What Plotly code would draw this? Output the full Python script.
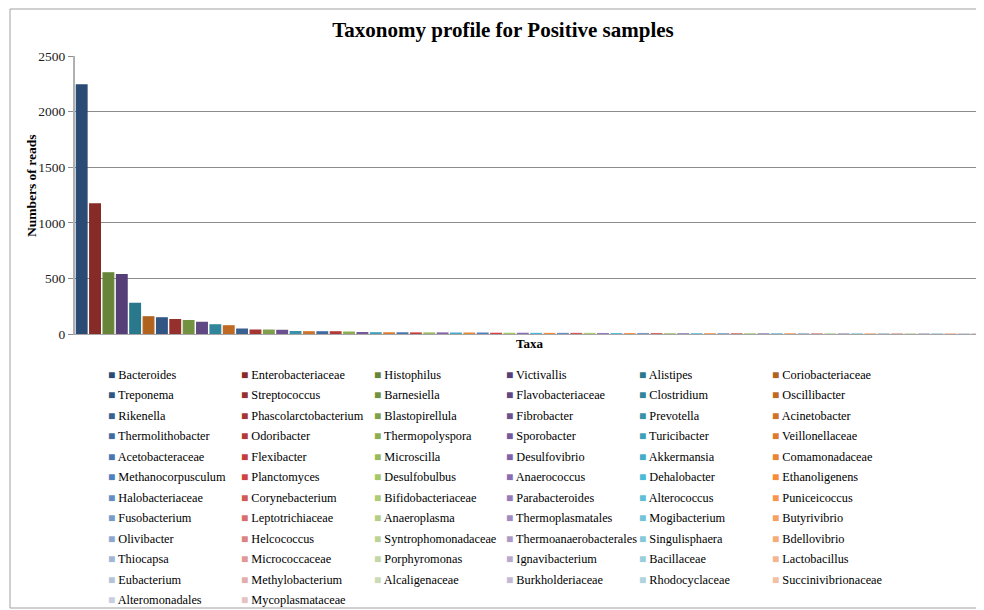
import plotly.graph_objects as go

taxa = [
    "Bacteroides", "Enterobacteriaceae", "Histophilus", "Victivallis", "Alistipes", "Coriobacteriaceae",
    "Treponema", "Streptococcus", "Barnesiella", "Flavobacteriaceae", "Clostridium", "Oscillibacter",
    "Rikenella", "Phascolarctobacterium", "Blastopirellula", "Fibrobacter", "Prevotella", "Acinetobacter",
    "Thermolithobacter", "Odoribacter", "Thermopolyspora", "Sporobacter", "Turicibacter", "Veillonellaceae",
    "Acetobacteraceae", "Flexibacter", "Microscilla", "Desulfovibrio", "Akkermansia", "Comamonadaceae",
    "Methanocorpusculum", "Planctomyces", "Desulfobulbus", "Anaerococcus", "Dehalobacter", "Ethanoligenens",
    "Halobacteriaceae", "Corynebacterium", "Bifidobacteriaceae", "Parabacteroides", "Alterococcus", "Puniceicoccus",
    "Fusobacterium", "Leptotrichiaceae", "Anaeroplasma", "Thermoplasmatales", "Mogibacterium", "Butyrivibrio",
    "Olivibacter", "Helcococcus", "Syntrophomonadaceae", "Thermoanaerobacterales", "Singulisphaera", "Bdellovibrio",
    "Thiocapsa", "Micrococcaceae", "Porphyromonas", "Ignavibacterium", "Bacillaceae", "Lactobacillus",
    "Eubacterium", "Methylobacterium", "Alcaligenaceae", "Burkholderiaceae", "Rhodocyclaceae", "Succinivibrionaceae",
    "Alteromonadales", "Mycoplasmataceae",
]

reads = [
    2240, 1170, 550, 535, 275, 155,
    145, 130, 120, 105, 82, 74,
    45, 36, 35, 33, 21, 20,
    20, 19, 18, 12, 11, 10,
    10, 9, 9, 9, 8, 8,
    8, 6, 6, 6, 5, 5,
    5, 5, 5, 4, 4, 4,
    4, 4, 4, 3, 3, 3,
    3, 3, 3, 3, 3, 3,
    2, 2, 2, 2, 2, 2,
    2, 2, 2, 2, 2, 2,
    2, 2,
]

# office-2007 style hues: darkest, base, lightest
hues = [
    ("#2a4b74", "#4f81bd", "#c8d0df"),
    ("#862b28", "#d0433f", "#e6c3c2"),
    ("#678438", "#a4c865", "#d4dec6"),
    ("#563f76", "#8a6cb3", "#cfc8da"),
    ("#2a788b", "#4cb9d6", "#c0d8df"),
    ("#b0621f", "#f98c3a", "#f0cbb8"),
]


def mix(a, b, t):
    a = [int(a[i:i + 2], 16) for i in (1, 3, 5)]
    b = [int(b[i:i + 2], 16) for i in (1, 3, 5)]
    return "#" + "".join("%02x" % round(a[k] + (b[k] - a[k]) * t) for k in range(3))


def shade(i):
    dark, base, light = hues[i % 6]
    r = i // 6
    if r <= 5:
        return mix(dark, base, r / 5)
    return mix(base, light, (r - 5) / 6)


serif = "Liberation Serif, Times New Roman, serif"

# page body adds an 8px offset; positions below are in figure pixels
W, H = 976, 602
W0, W1 = 67, 976
T0, B0 = 48, 326
pw, ph = W1 - W0, B0 - T0


def px(x):
    return (x - W0) / pw


def py(y):
    return (B0 - y) / ph


fig = go.Figure()
for i, (name, val) in enumerate(zip(taxa, reads)):
    c = shade(i)
    fig.add_trace(go.Bar(x=[name], y=[val], name=name, width=0.8,
                         marker=dict(color=c, line=dict(color=c, width=1.2))))

# legend, six columns as in the original (key square + name)
legend_notes = []
for i, name in enumerate(taxa):
    col, row = i % 6, i // 6
    legend_notes.append(dict(
        text='<span style="font-size:12px;color:%s">■</span> %s' % (shade(i), name),
        xref="paper", yref="paper", x=px(98 + 132.8 * col), y=py(367 + 20.45 * row),
        xanchor="left", yanchor="middle", showarrow=False, align="left",
        font=dict(family=serif, size=12.3, color="black")))

fig.update_layout(
    width=W, height=H,
    margin=dict(l=W0, r=W - W1, t=T0, b=H - B0, autoexpand=False),
    paper_bgcolor="white", plot_bgcolor="white",
    barmode="overlay",
    showlegend=False,
    title=dict(text="<b>Taxonomy profile for Positive samples</b>", x=495 / W, xanchor="center",
               y=1 - 22 / H, yanchor="middle", font=dict(family=serif, size=21, color="black")),
    font=dict(family=serif, size=12, color="black"),
    xaxis=dict(showticklabels=False, showgrid=False, range=[-0.5, len(taxa) - 0.5],
               showline=True, linecolor="#a6a6a6", linewidth=1, ticks="",
               title=dict(text="<b>Taxa</b>", standoff=4, font=dict(family=serif, size=13))),
    yaxis=dict(range=[0, 2500], dtick=500, showgrid=True, gridcolor="#8c8c8c", gridwidth=1,
               showline=True, linecolor="#b0b0b0", linewidth=2, ticks="outside", ticklen=5,
               tickcolor="#8c8c8c", tickfont=dict(family=serif, size=13.5, color="#222222"),
               zeroline=False),
    annotations=[dict(text="<b>Numbers of reads</b>", textangle=-90, xref="paper", yref="paper",
                      x=px(23), y=py(178), showarrow=False,
                      xanchor="center", yanchor="middle", font=dict(family=serif, size=13.5))]
                + legend_notes,
    shapes=[dict(type="rect", xref="paper", yref="paper",
                 x0=px(2), x1=px(W + 10), y0=py(600), y1=py(1),
                 line=dict(color="#a0a0a0", width=1), fillcolor="rgba(0,0,0,0)", layer="below")],
)

fig.write_html("out.html")
